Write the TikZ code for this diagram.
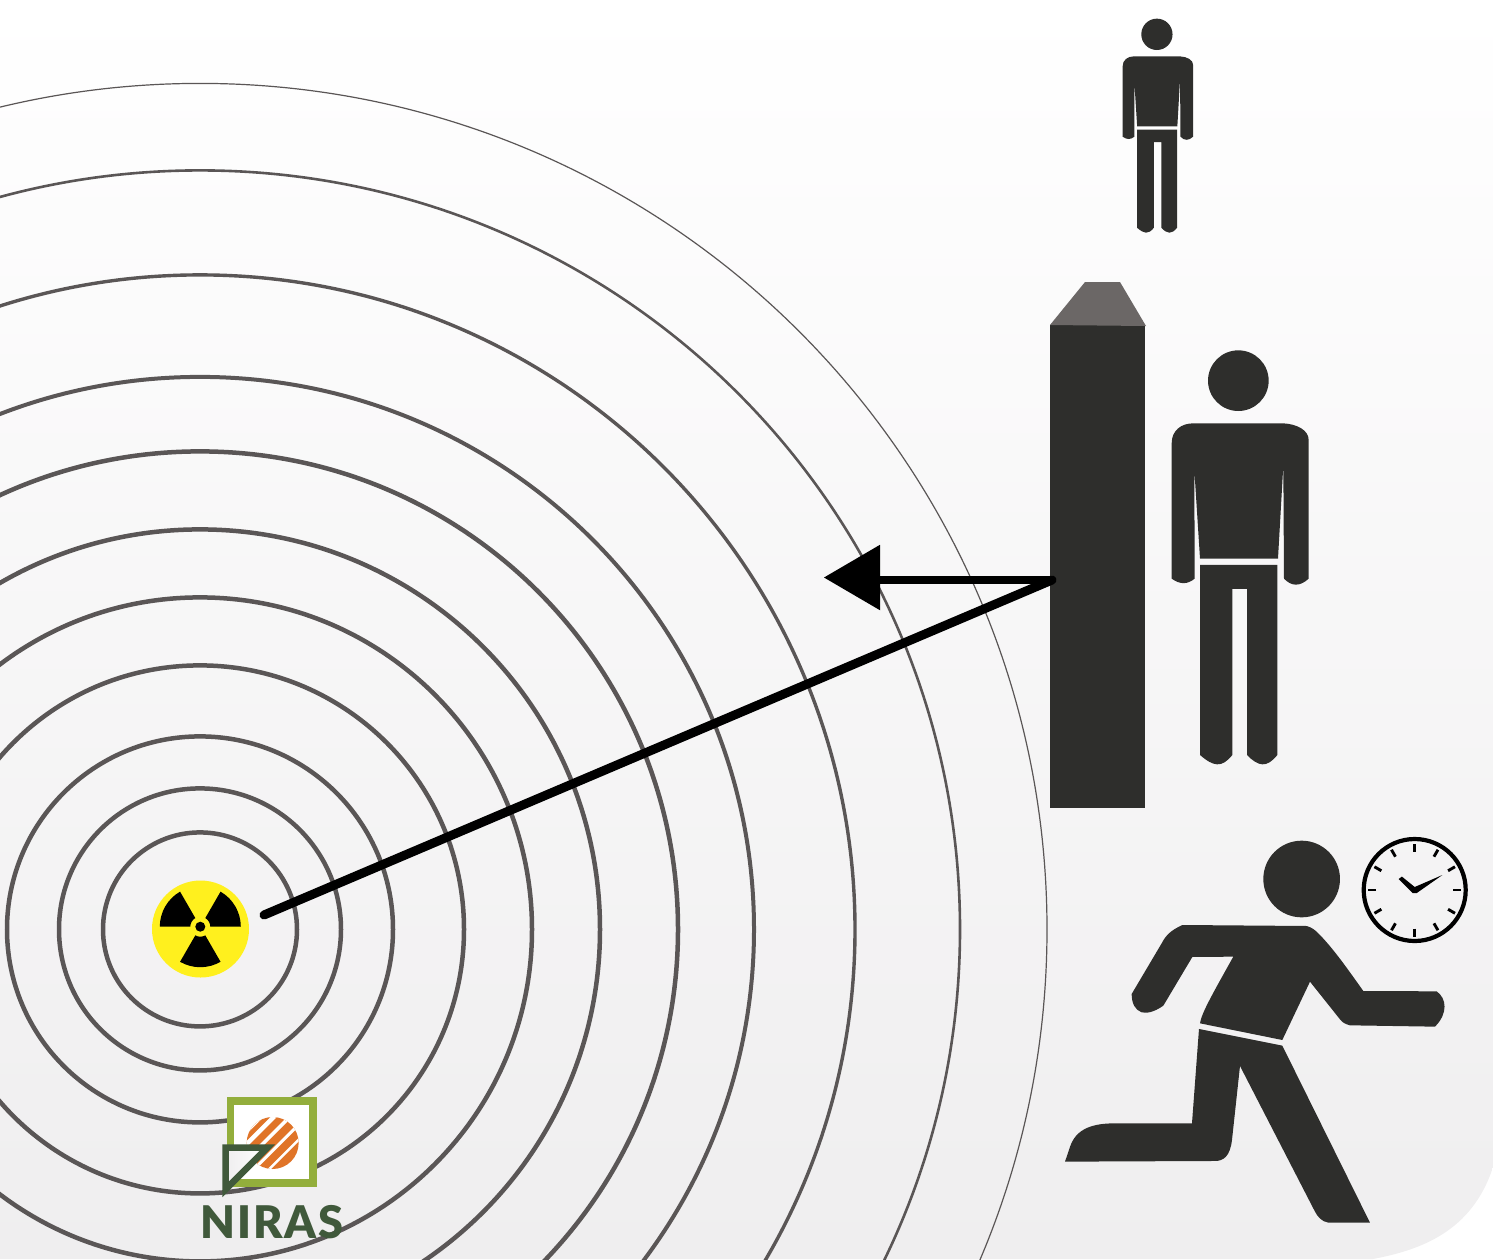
\documentclass[tikz,border=0pt]{standalone}
\usepackage{fontspec}
\setmainfont{Liberation Sans}
\newfontfamily\nirasfont{Lato Black}[LetterSpace=4]
\usetikzlibrary{arrows.meta}
\definecolor{figdark}{HTML}{2E2E2C}
\definecolor{ringgrey}{HTML}{5A5656}
\definecolor{pillartop}{HTML}{6B6766}
\definecolor{bgbottom}{HTML}{EFEEEF}
\definecolor{nuclear}{HTML}{FFF01E}
\definecolor{logogreen}{HTML}{93AE3C}
\definecolor{logodark}{HTML}{40593B}
\definecolor{logoorange}{HTML}{E07428}
\tikzset{
  ring/.style={draw=ringgrey,line width=4.5pt},
  figure/.style={fill=figdark,draw=none},
  tick/.style={draw=black,line width=2.9pt,line cap=butt},
  stripe/.style={draw=white,line cap=butt},
}
\newcommand{\standingman}{%
  \fill[figure] (265,122) circle[radius=91];
  \fill[figure] (65,310) .. controls (65,270) and (95,250) .. (130,250) -- (400,250)
    .. controls (440,252) and (476,270) .. (476,300) -- (476,716)
    .. controls (450,740) and (425,740) .. (402,716) -- (400,375) -- (384,656) -- (150,656)
    -- (133,390) -- (134,716) .. controls (112,734) and (90,734) .. (65,716) -- cycle;
  \fill[figure] (150,675) -- (382,675) -- (382,1245)
    .. controls (350,1285) and (325,1280) .. (291,1245) -- (291,747) -- (247,747) -- (247,1245)
    .. controls (215,1285) and (190,1280) .. (150,1245) -- cycle;
}
\begin{document}
\begin{tikzpicture}[x=1pt,y=-1pt]
\useasboundingbox (0,0) rectangle (1493,1259);
% background
\shade[top color=white,bottom color=bgbottom]
  (0,0) -- (1493,0) -- (1493,1167) .. controls (1472,1232) and (1420,1250) .. (1373,1259) -- (0,1259) -- cycle;
% rings
\begin{scope}
  \clip (0,0) rectangle (1493,1259);
  \coordinate (centre) at (200,929.4);
  \foreach \r in {97,141,193,264,332,400,478}
    \draw[ring] (centre) circle[radius=\r];
  \draw[ring,line width=4pt] (centre) circle[x radius=554,y radius=552.5];
  \draw[ring,line width=3.4pt] (centre) circle[x radius=655,y radius=654.5];
  \draw[ring,line width=2.6pt] (centre) circle[x radius=760,y radius=759];
  \draw[ring,line width=1.2pt] (centre) circle[x radius=847,y radius=846];
\end{scope}
% radiation source
\node[circle,fill=nuclear,minimum size=97pt,inner sep=0pt] (source) at (200.5,929) {};
\begin{scope}[shift={(200.3,926.7)},x=1pt,y=1pt]
  \foreach \a in {0,120,240}{
    \fill[black] (\a:10pt) -- (\a:40.5pt) arc[start angle=\a,delta angle=60,radius=40.5pt]
      -- ({\a+60}:10pt) arc[start angle={\a+60},delta angle=-60,radius=10pt] -- cycle;
  }
  \fill[black] (0,0) circle[radius=5pt];
\end{scope}
% pillar
\node[rectangle,fill=figdark,minimum width=95pt,minimum height=483pt,inner sep=0pt,anchor=north west] (pillar) at (1050,325) {};
\fill[pillartop] (1050,325) -- (1085,282) -- (1120,282) -- (1146,326) -- cycle;
% connectors
\coordinate (hit) at (1052,580);
\coordinate (sourceend) at (264,915);
\coordinate (neck) at (878,580);
\coordinate (headbase) at (882,577.5);
\coordinate (arrowtip) at (824,577.5);
\draw[black,line width=8.4pt,line cap=round] (hit) -- (neck);
\draw[black,line width=2pt,-{Triangle[length=56pt,width=65pt]}] (headbase) -- (arrowtip);
\draw[black,line width=9pt,line cap=round] (sourceend) -- (hit);
% small man
\begin{scope}[shift={(1111.4,13.3)},x=0.1717pt,y=-0.1723pt]
  \standingman
\end{scope}
% big man
\begin{scope}[shift={(1150,340)},x=0.3333pt,y=-0.3333pt]
  \standingman
\end{scope}
% runner
\begin{scope}[shift={(1050,820)},x=0.3333pt,y=-0.3333pt]
  \fill[figure] (755,177) circle[radius=115];
  \fill[figure] (397,315) -- (770,318) .. controls (785,322) and (795,330) .. (805,340)
    .. controls (850,385) and (895,450) .. (940,513) -- (1160,514) .. controls (1190,535) and (1195,580) .. (1155,620)
    -- (900,616) .. controls (885,612) and (878,608) .. (870,598) -- (780,485) -- (697,660) -- (450,610)
    .. controls (455,580) and (480,535) .. (550,410) -- (427,411) -- (340,557)
    .. controls (310,578) and (290,580) .. (275,577) .. controls (255,570) and (245,550) .. (245,522)
    -- (335,370) .. controls (350,340) and (370,328) .. (397,315) -- cycle;
  \fill[figure] (447,627) -- (697,677) -- (960,1208) -- (835,1208)
    .. controls (815,1205) and (803,1190) .. (795,1175) -- (570,738) -- (546,960)
    .. controls (540,1010) and (520,1023) .. (495,1023) -- (45,1025) -- (62,975)
    .. controls (85,915) and (150,910) .. (200,910) -- (426,910) -- cycle;
\end{scope}
% clock
\node[circle,draw=black,line width=4.2pt,minimum size=102pt,inner sep=0pt] (clock) at (1414.7,890) {};
\begin{scope}[shift={(1414.7,890)},x=1pt,y=1pt]
  \foreach \a in {0,30,...,330}{
    \draw[tick] (\a:38.5pt) -- (\a:46.5pt);
  }
  \fill[black] (27.7,15) -- (1.8,-3.2) .. controls (0.5,-4) and (-0.5,-4) .. (-1.8,-3.2)
    -- (-16,11) -- (-12.8,13.4) -- (0,3) -- cycle;
\end{scope}
% logo
\begin{scope}[shift={(180,1080)},x=0.3333pt,y=-0.3333pt]
  \fill[white,draw=logogreen,line width=7.3pt] (152,63) rectangle (399,309);
  \begin{scope}
    \clip (278,189) circle[radius=78];
    \fill[logoorange] (170,90) rectangle (380,290);
    \foreach \k/\w in {535/2.4,490/3,440/3.6,392/4.4,350/5.5,310/5}
      \draw[stripe,line width=\w pt] ({\k-400},400) -- (400,{\k-400});
  \end{scope}
  \shadedraw[left color=bgbottom,right color=white,draw=logodark,line width=6.5pt,miter limit=10] (137,203) -- (262,203) -- (137,328) -- cycle;
\end{scope}
\node[inner sep=0pt,anchor=base,font=\nirasfont\fontsize{45}{45}\selectfont,text=logodark] (niras) at (272,1238) {NIRAS};
\end{tikzpicture}
\end{document}
